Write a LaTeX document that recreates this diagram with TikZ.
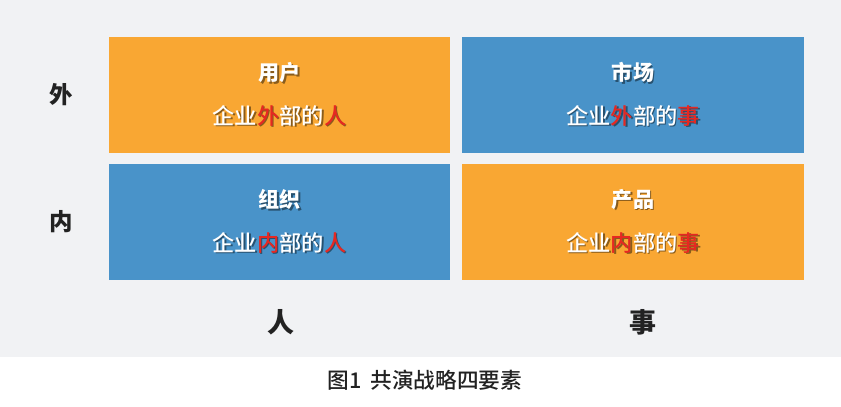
\documentclass[tikz,border=0pt]{standalone}
\usepackage{fontspec}
\setmainfont{Noto Sans CJK SC}
\newfontfamily\medfont{Noto Sans CJK SC Medium}
\usetikzlibrary{positioning}

\definecolor{bggray}{HTML}{F1F2F4}
\definecolor{quadorange}{HTML}{F9A733}
\definecolor{quadblue}{HTML}{4993C9}
\definecolor{hlred}{HTML}{E62822}
\definecolor{labeldark}{HTML}{222222}

% red words inside a box, shadowed text
\newcommand\hl[1]{{\color{hlred}#1}}
\newcommand\shtext[1]{{\leavevmode\rlap{\raisebox{-1.4pt}{\kern1.4pt\let\hl\relax\color{shcol}#1}}#1}}

\tikzset{
  quad/.style={rectangle, inner sep=0pt, outer sep=0pt, minimum width=10.23cm,
    minimum height=3.48cm, align=center, text=white},
  orangequad/.style={quad, fill=quadorange,
    execute at begin node={\colorlet{shcol}{quadorange!55!black}}},
  bluequad/.style={quad, fill=quadblue,
    execute at begin node={\colorlet{shcol}{quadblue!55!black}}},
  axislabel/.style={text=labeldark, font=\fontsize{20}{24}\selectfont\bfseries},
  caption/.style={text=labeldark, font=\fontsize{18.5}{22}\selectfont\medfont}
}

\newcommand\quadtext[2]{{\fontsize{18}{22}\selectfont\bfseries\shtext{#1}}\\[17pt]
  {\fontsize{19}{23}\selectfont\medfont\shtext{#2}}}

\begin{document}
\begin{tikzpicture}[x=0.03cm, y=-0.03cm]
  \fill[bggray] (0,0) rectangle (841,357);
  \useasboundingbox (0,0) rectangle (841,406);

  \node[orangequad] (user)    at (279.5,95)  {\quadtext{用户}{企业\hl{外}部的\hl{人}}};
  \node[bluequad]   (market)  at (633,95)    {\quadtext{市场}{企业\hl{外}部的\hl{事}}};
  \node[bluequad]   (org)     at (279.5,222) {\quadtext{组织}{企业\hl{内}部的\hl{人}}};
  \node[orangequad] (product) at (633,222)   {\quadtext{产品}{企业\hl{内}部的\hl{事}}};

  \node[axislabel] (outer)  at (61,95)   {外};
  \node[axislabel] (inner)  at (61,222)  {内};
  \node[axislabel, font=\fontsize{23}{26}\selectfont\bfseries] (people) at (281,322) {人};
  \node[axislabel, font=\fontsize{23}{26}\selectfont\bfseries] (things) at (643,322) {事};

  \node[caption] (fig) at (425,380) {图1\, 共演战略四要素};
\end{tikzpicture}
\end{document}
